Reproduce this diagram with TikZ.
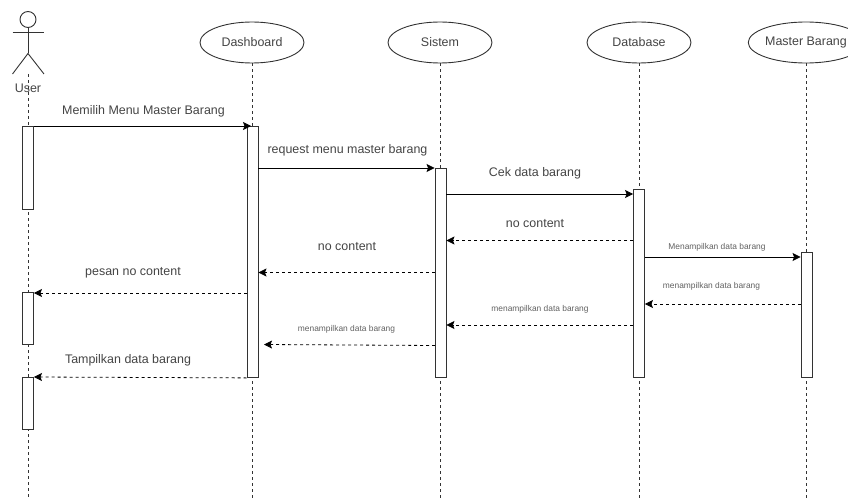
\documentclass[tikz,border=0pt]{standalone}
\usepackage{fontspec}
\setmainfont{Liberation Sans}
\usetikzlibrary{arrows.meta,shapes.geometric}
\definecolor{linec}{HTML}{333333}
\definecolor{textc}{HTML}{444444}
\tikzset{
  x=1pt,y=1pt,
  head/.style={ellipse,draw=linec,fill=white,line width=0.9pt,minimum width=104pt,minimum height=41pt,inner sep=0pt,text=textc,font=\fontsize{12.45}{14}\selectfont},
  life/.style={draw=linec,line width=0.8pt,dash pattern=on 3pt off 3pt},
  bar/.style={rectangle,draw=linec,fill=white,line width=0.9pt,minimum width=11pt,inner sep=0pt,anchor=north},
  msg/.style={draw=black,line width=0.8pt,-{Stealth[length=8pt,width=8pt,inset=1.5pt]}},
  ret/.style={draw=black,line width=0.8pt,dash pattern=on 3pt off 3pt,-{Stealth[length=8pt,width=8pt,inset=1.5pt]}},
  big/.style={text=textc,font=\fontsize{12.45}{14}\selectfont,inner sep=0pt},
  tiny/.style={text=textc!85,font=\fontsize{8.4}{10}\selectfont,inner sep=0pt},
  stick/.style={draw=linec,line width=0.9pt}
}
\begin{document}
\begin{tikzpicture}
\useasboundingbox (0,0) rectangle (848,-500);
% headers
\node[circle,stick,fill=white,minimum size=16pt,inner sep=0pt] (uhead) at (28,-19.5) {};
\coordinate (ubody) at (28,-53.5);
\coordinate (uarml) at (12.5,-32);
\coordinate (uarmr) at (44,-32);
\coordinate (ulegl) at (12.5,-74);
\coordinate (ulegr) at (44,-74);
\coordinate (ufoot) at (28,-74);
\node[head] (dash) at (252,-42.5) {Dashboard};
\node[head] (sis) at (440,-42.5) {Sistem};
\node[head] (db) at (639,-42.5) {Database};
\node[head] (mb) at (806,-42.5) {Master Barang};
% lifeline ends
\coordinate (uend) at (28,-500);
\coordinate (dend) at (252,-500);
\coordinate (send) at (440,-500);
\coordinate (bend) at (639,-500);
\coordinate (mend) at (806,-500);
\draw[life] (ufoot) -- (uend);
\draw[life] (dash.south) -- (dend);
\draw[life] (sis.south) -- (send);
\draw[life] (db.south) -- (bend);
\draw[life] (mb.south) -- (mend);
% actor
\draw[stick] (uhead.south) -- (ubody);
\draw[stick] (uarml) -- (uarmr);
\draw[stick] (ulegl) -- (ubody) -- (ulegr);
\node[big] (ulabel) at (28,-88) {User};
% activations
\node[bar,minimum height=83pt] (ua) at (28,-126) {};
\node[bar,minimum height=52pt] (ub) at (28,-292) {};
\node[bar,minimum height=52pt] (uc) at (28,-377) {};
\node[bar,minimum height=251pt] (da) at (252.5,-126) {};
\node[bar,minimum height=209pt] (sa) at (440.5,-168) {};
\node[bar,minimum height=188pt] (ba) at (639,-189) {};
\node[bar,minimum height=125pt] (ma) at (806.5,-252) {};
% message levels
\coordinate (l3) at (0,-194);
\coordinate (l4) at (0,-240.5);
\coordinate (l5) at (0,-257);
\coordinate (l6) at (0,-272.5);
\coordinate (l7) at (0,-293);
\coordinate (l8) at (0,-304);
\coordinate (l9) at (0,-325);
\coordinate (t10) at (264,-344.5);
\coordinate (s10) at (435,-345.5);
\coordinate (t1) at (251,-126);
% messages
\draw[msg] (ua.north east) -- (t1);
\draw[msg] (da.east |- sa.north) -- (sa.north west);
\draw[msg] (sa.east |- l3) -- (ba.west |- l3);
\draw[ret] (ba.west |- l4) -- (sa.east |- l4);
\draw[msg] (ba.east |- l5) -- (ma.west |- l5);
\draw[ret] (sa.west |- l6) -- (da.east |- l6);
\draw[ret] (da.west |- l7) -- (ub.east |- l7);
\draw[ret] (ma.west |- l8) -- (ba.east |- l8);
\draw[ret] (ba.west |- l9) -- (sa.east |- l9);
\draw[ret] (s10) -- (t10);
\draw[ret] (da.south west) -- (uc.north east);
% labels
\node[big] (t1l) at (143.5,-111) {Memilih Menu Master Barang};
\node[big] (t2l) at (347.5,-150) {request menu master barang};
\node[big] (t3l) at (535,-173) {Cek data barang};
\node[big] (t4l) at (535,-224) {no content};
\node[big] (t5l) at (347,-246.5) {no content};
\node[big] (t6l) at (133,-273) {pesan no content};
\node[big] (t7l) at (128,-360) {Tampilkan data barang};
\node[tiny] (t8l) at (717,-247) {Menampilkan data barang};
\node[tiny] (t9l) at (711.5,-286.5) {menampilkan data barang};
\node[tiny] (t10l) at (540,-309) {menampilkan data barang};
\node[tiny] (t11l) at (346.5,-329.5) {menampilkan data barang};
\end{tikzpicture}
\end{document}
